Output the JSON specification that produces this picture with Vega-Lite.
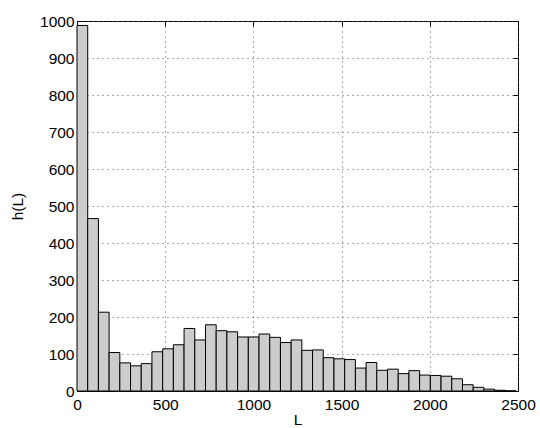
{
  "$schema": "https://vega.github.io/schema/vega-lite/v6.json",
  "autosize": "none",
  "width": 441,
  "height": 370,
  "padding": {"left": 77, "top": 21, "right": 22, "bottom": 37},
  "background": "white",
  "config": {
    "font": "Liberation Sans",
    "view": {"stroke": "black", "strokeWidth": 1},
    "axis": {
      "labelFont": "Liberation Sans",
      "titleFont": "Liberation Sans",
      "labelFontSize": 15.5,
      "titleFontSize": 15.5,
      "titleFontWeight": "normal",
      "labelColor": "black",
      "titleColor": "black",
      "domainColor": "black",
      "tickColor": "black",
      "tickSize": -5,
      "labelFlush": false,
      "format": "d",
      "gridColor": "#555555",
      "gridDash": [1, 4],
      "gridWidth": 1,
      "gridOpacity": 1
    }
  },
  "data": {
    "values": [
      {"L0": 0, "L1": 60.7, "h": 988},
      {"L0": 60.7, "L1": 121.4, "h": 466},
      {"L0": 121.4, "L1": 182.1, "h": 213},
      {"L0": 182.1, "L1": 242.8, "h": 104},
      {"L0": 242.8, "L1": 303.5, "h": 76},
      {"L0": 303.5, "L1": 364.2, "h": 68},
      {"L0": 364.2, "L1": 424.9, "h": 74},
      {"L0": 424.9, "L1": 485.6, "h": 106},
      {"L0": 485.6, "L1": 546.3, "h": 114},
      {"L0": 546.3, "L1": 607, "h": 125},
      {"L0": 607, "L1": 667.7, "h": 169},
      {"L0": 667.7, "L1": 728.4, "h": 138},
      {"L0": 728.4, "L1": 789.1, "h": 179},
      {"L0": 789.1, "L1": 849.8, "h": 163},
      {"L0": 849.8, "L1": 910.5, "h": 160},
      {"L0": 910.5, "L1": 971.2, "h": 146},
      {"L0": 971.2, "L1": 1031.9, "h": 146},
      {"L0": 1031.9, "L1": 1092.6, "h": 154},
      {"L0": 1092.6, "L1": 1153.3, "h": 145},
      {"L0": 1153.3, "L1": 1214, "h": 131},
      {"L0": 1214, "L1": 1274.7, "h": 138},
      {"L0": 1274.7, "L1": 1335.4, "h": 110},
      {"L0": 1335.4, "L1": 1396.1, "h": 111},
      {"L0": 1396.1, "L1": 1456.8, "h": 90},
      {"L0": 1456.8, "L1": 1517.5, "h": 87},
      {"L0": 1517.5, "L1": 1578.2, "h": 85},
      {"L0": 1578.2, "L1": 1638.9, "h": 62},
      {"L0": 1638.9, "L1": 1699.6, "h": 77},
      {"L0": 1699.6, "L1": 1760.3, "h": 56},
      {"L0": 1760.3, "L1": 1821, "h": 59},
      {"L0": 1821, "L1": 1881.7, "h": 47},
      {"L0": 1881.7, "L1": 1942.4, "h": 55},
      {"L0": 1942.4, "L1": 2003.1, "h": 43},
      {"L0": 2003.1, "L1": 2063.8, "h": 42},
      {"L0": 2063.8, "L1": 2124.5, "h": 40},
      {"L0": 2124.5, "L1": 2185.2, "h": 33},
      {"L0": 2185.2, "L1": 2245.9, "h": 17},
      {"L0": 2245.9, "L1": 2306.6, "h": 10},
      {"L0": 2306.6, "L1": 2367.3, "h": 5},
      {"L0": 2367.3, "L1": 2428, "h": 2},
      {"L0": 2428, "L1": 2488.7, "h": 0.5}
    ]
  },
  "layer": [
    {
      "mark": {"type": "bar", "fill": "#cccccc", "stroke": "black", "strokeWidth": 1},
      "encoding": {
        "x": {
          "field": "L0", "type": "quantitative",
          "scale": {"domain": [0, 2500], "nice": false, "zero": false},
          "axis": {"orient": "bottom", "values": [0, 500, 1000, 1500, 2000, 2500], "title": "L", "titlePadding": 0, "labelPadding": 11, "grid": true}
        },
        "x2": {"field": "L1"},
        "y": {
          "field": "h", "type": "quantitative",
          "scale": {"domain": [0, 1000], "nice": false},
          "axis": {"orient": "left", "values": [0, 100, 200, 300, 400, 500, 600, 700, 800, 900, 1000], "title": "h(L)", "titlePadding": 14, "labelPadding": 8, "grid": true}
        },
        "y2": {"datum": 0}
      }
    },
    {
      "mark": {"type": "point", "opacity": 0},
      "encoding": {
        "x": {
          "field": "L0", "type": "quantitative",
          "scale": {"domain": [0, 2500], "nice": false, "zero": false},
          "axis": {"orient": "top", "values": [0, 500, 1000, 1500, 2000, 2500], "labels": false, "title": null, "grid": false, "domain": false}
        },
        "y": {
          "field": "h", "type": "quantitative",
          "scale": {"domain": [0, 1000], "nice": false},
          "axis": {"orient": "right", "values": [0, 100, 200, 300, 400, 500, 600, 700, 800, 900, 1000], "labels": false, "title": null, "grid": false, "domain": false}
        }
      }
    }
  ],
  "resolve": {"axis": {"x": "independent", "y": "independent"}}
}
